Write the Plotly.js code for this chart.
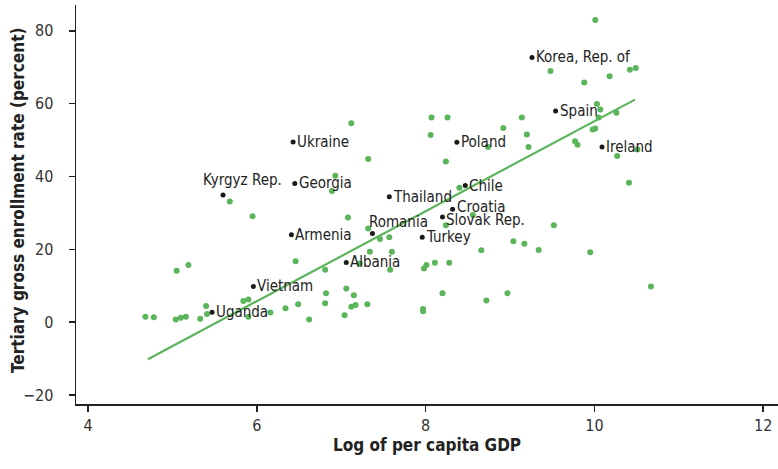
<!DOCTYPE html>
<html>
<head>
<meta charset="utf-8">
<script src="https://cdn.plot.ly/plotly-3.0.1.min.js"></script>
<style>html,body{margin:0;padding:0;background:#fff}#chart{width:778px;height:469px}</style>
</head>
<body>
<div id="chart"></div>
<script>
// Unlabelled countries (log per capita GDP, tertiary enrollment %)
const otherX = [4.68,4.78,5.04,5.10,5.16,5.33,5.40,5.41,5.05,5.19,5.68,5.95,5.84,5.90,5.90,6.16,6.34,6.49,6.62,6.46,6.81,6.82,6.81,6.93,6.89,7.12,7.32,7.08,7.32,7.46,7.57,7.34,7.60,7.22,7.58,7.06,7.15,7.12,7.17,7.31,7.04,7.98,8.01,8.11,8.28,7.97,7.97,8.20,8.72,8.97,8.24,8.56,8.66,9.04,9.17,9.34,9.52,8.40,8.24,8.74,8.06,8.07,8.26,8.92,9.14,9.20,9.22,9.48,9.77,9.80,9.88,10.01,10.03,10.05,10.07,10.26,10.01,9.98,10.18,10.42,10.49,10.51,10.27,10.41,9.95,10.67];
const otherY = [1.5,1.3,0.7,1.2,1.5,0.9,4.4,2.2,14.1,15.7,33.1,29.1,5.8,6.2,1.5,2.6,3.8,4.9,0.7,16.7,14.4,7.9,5.2,40.2,36.0,54.6,44.8,28.7,25.7,22.8,23.3,19.3,19.3,16.1,14.4,9.2,7.4,4.2,4.7,4.9,1.9,14.7,15.7,16.3,16.3,3.6,3.0,7.9,5.9,7.9,26.6,29.4,19.7,22.2,21.5,19.8,26.6,36.9,44.1,48.1,51.4,56.2,56.2,53.3,56.2,51.5,48.1,69.0,49.7,48.7,65.8,83.0,59.9,56.2,58.4,57.5,53.2,52.9,67.5,69.3,69.8,47.4,45.6,38.3,19.2,9.8];

// Labelled countries
const namedCountries = ["Korea, Rep. of","Spain","Ireland","Poland","Ukraine","Georgia","Kyrgyz Rep.","Chile","Thailand","Croatia","Slovak Rep.","Romania","Turkey","Armenia","Albania","Vietnam","Uganda"];
const namedX = [9.26,9.54,10.09,8.37,6.43,6.45,5.60,8.47,7.57,8.32,8.20,7.37,7.96,6.41,7.06,5.96,5.47];
const namedY = [72.7,58.0,48.1,49.4,49.5,38.1,34.9,37.5,34.4,31.0,28.9,24.3,23.3,24.0,16.4,9.8,2.7];

// Fitted line endpoints
const fitX = [4.71, 10.48];
const fitY = [-10.2, 61.1];

const xTicks = [4,6,8,10,12];
const yTicks = [-20,0,20,40,60,80];

const xTitle = "Log of per capita GDP";
const yTitle = "Tertiary gross enrollment rate (percent)";

const FONT = "Liberation Sans Narrow, DejaVu Sans Condensed, Arial Narrow, sans-serif";
const green = "#5bb55b";

const annotations = namedCountries.map((n,i) => {
  let a = {x: namedX[i], y: namedY[i], text: n, showarrow: false, xanchor: "left", yanchor: "middle", xshift: 2, yshift: 0,
           font: {family: FONT, size: 15, color: "#222"}};
  if (n === "Kyrgyz Rep.") { a.xanchor = "center"; a.xshift = 19; a.yshift = 15; }
  if (n === "Romania") { a.xshift = -5; a.yshift = 12; }
  if (n === "Slovak Rep.") { a.yshift = -3; }
  if (n === "Croatia") { a.yshift = 2; }
  return a;
});
annotations.push({xref: "paper", yref: "paper", x: 0, y: 0.509, xshift: -58, xanchor: "center", yanchor: "middle",
  textangle: -90, showarrow: false, text: "<b>" + yTitle + "</b>", font: {family: FONT, size: 17, color: "#222"}});

const traces = [
  {x: otherX, y: otherY, mode: "markers", type: "scatter",
   marker: {color: green, size: 6, line: {width: 0}}, hoverinfo: "x+y"},
  {x: fitX, y: fitY, mode: "lines", type: "scatter",
   line: {color: green, width: 2.2}, hoverinfo: "skip"},
  {x: namedX, y: namedY, mode: "markers", type: "scatter", text: namedCountries,
   marker: {color: "#1a1a1a", size: 5}, hoverinfo: "text"}
];

const layout = {
  width: 778, height: 469,
  margin: {l: 76, r: 0, t: 5, b: 65},
  paper_bgcolor: "#fff", plot_bgcolor: "#fff",
  showlegend: false,
  font: {family: FONT, color: "#222"},
  xaxis: {
    range: [3.858, 12.175], tickvals: xTicks, ticktext: xTicks.map(String),
    showgrid: false, zeroline: false, showline: true, linecolor: "#222", linewidth: 1.5,
    ticks: "outside", ticklen: 6, tickwidth: 1.5, tickcolor: "#222",
    tickfont: {family: FONT, size: 16, color: "#333"},
    title: {text: "<b>" + xTitle + "</b>", font: {family: FONT, size: 17, color: "#222"}, standoff: 4}
  },
  yaxis: {
    range: [-22.5, 87.1], tickvals: yTicks, ticktext: yTicks.map(v => v < 0 ? "\u2212" + Math.abs(v) : String(v)),
    showgrid: false, zeroline: false, showline: true, linecolor: "#222", linewidth: 1.5,
    ticks: "outside", ticklen: 6, tickwidth: 1.5, tickcolor: "#222",
    ticklabelstandoff: 12,
    tickfont: {family: FONT, size: 16, color: "#333"}
  },
  annotations: annotations
};

Plotly.newPlot("chart", traces, layout, {displayModeBar: false, staticPlot: true});
</script>
</body>
</html>
